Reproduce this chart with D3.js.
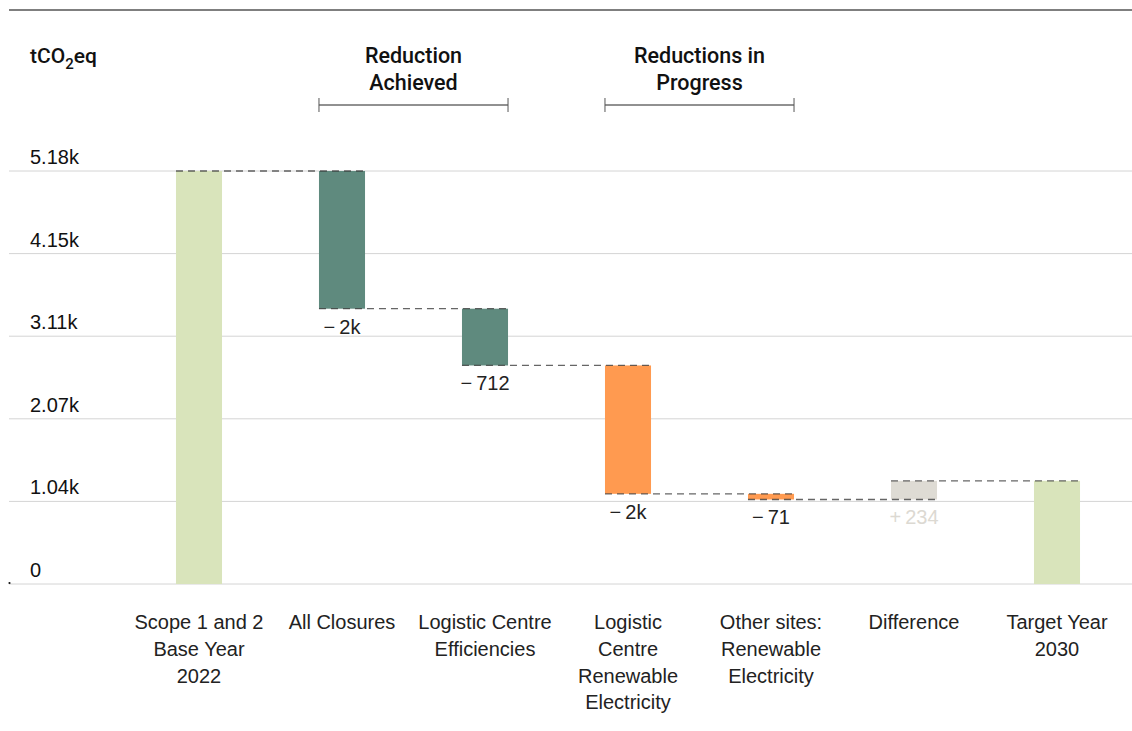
<!DOCTYPE html>
<html>
<head>
<meta charset="utf-8">
<script src="https://cdn.jsdelivr.net/npm/d3@7"></script>
<style>
  html, body { margin: 0; padding: 0; background: #fff; }
  svg { display: block; font-family: "Liberation Sans", Arial, sans-serif; }
</style>
</head>
<body>
<svg id="chart"></svg>
<script>
// categories (one array of lines per bar)
const categories = [
  ["Scope 1 and 2", "Base Year", "2022"],
  ["All Closures"],
  ["Logistic Centre", "Efficiencies"],
  ["Logistic", "Centre", "Renewable", "Electricity"],
  ["Other sites:", "Renewable", "Electricity"],
  ["Difference"],
  ["Target Year", "2030"]
];
// first is the starting total, last (null) is the closing total
const deltas = [5180, -1727, -712, -1610, -71, 234, null];
const kinds = ["total", "achieved", "achieved", "progress", "progress", "difference", "total"];

const yTicks = [0, 1036, 2072, 3108, 4144, 5180];
const yTickLabels = ["0", "1.04k", "2.07k", "3.11k", "4.15k", "5.18k"];

const groupLabels = [["Reduction", "Achieved"], ["Reductions in", "Progress"]];
const groupSpans = [[1, 2], [3, 4]];

const colors = {
  total: "#d9e4bb",
  achieved: "#5f8a7e",
  progress: "#ff9a50",
  difference: "#dedbd4"
};

const width = 1132, height = 731;
const svg = d3.select("#chart").attr("width", width).attr("height", height);

// build waterfall steps
let running = 0;
const steps = deltas.map((d, i) => {
  let start, end;
  if (kinds[i] === "total" && d !== null) { start = 0; end = d; }
  else if (d === null) { start = 0; end = running; }
  else { start = running; end = running + d; }
  running = end;
  return { i, start, end, delta: d, kind: kinds[i], lines: categories[i] };
});

// scales
const x = d3.scaleBand()
  .domain(d3.range(categories.length))
  .range([127.5, 1128.5])
  .paddingInner(0.678)
  .paddingOuter(0.339);

const y = d3.scaleLinear().domain([0, 5180]).range([584, 171]);

// top rule
svg.append("line")
  .attr("x1", 9).attr("x2", width)
  .attr("y1", 10).attr("y2", 10)
  .attr("stroke", "#555").attr("stroke-width", 1.5);

// unit title
const title = svg.append("text")
  .attr("x", 30).attr("y", 63)
  .attr("font-family", "Roboto, sans-serif")
  .attr("font-size", 21).attr("font-weight", 500).attr("fill", "#111");
title.append("tspan").text("tCO");
title.append("tspan").attr("dy", 6).attr("font-size", 15).text("2");
title.append("tspan").attr("dy", -6).text("eq");

// grid + y labels
const grid = svg.append("g");
grid.selectAll("line")
  .data(yTicks)
  .join("line")
  .attr("x1", 9).attr("x2", width)
  .attr("y1", d => y(d)).attr("y2", d => y(d))
  .attr("stroke", "#d4d4d4").attr("stroke-width", 1);

grid.selectAll("text")
  .data(yTicks)
  .join("text")
  .attr("x", 30)
  .attr("y", d => y(d) - 7)
  .attr("font-size", 20)
  .attr("fill", "#111")
  .text((d, i) => yTickLabels[i]);

svg.append("circle").attr("cx", 9.5).attr("cy", y(0) - 1).attr("r", 1.1).attr("fill", "#111");

// bars
svg.append("g")
  .selectAll("rect")
  .data(steps)
  .join("rect")
  .attr("x", d => x(d.i))
  .attr("width", x.bandwidth())
  .attr("y", d => y(Math.max(d.start, d.end)))
  .attr("height", d => Math.abs(y(d.start) - y(d.end)))
  .attr("fill", d => colors[d.kind]);

// dashed connectors
svg.append("g")
  .selectAll("line")
  .data(steps.slice(0, -1))
  .join("line")
  .attr("x1", d => x(d.i))
  .attr("x2", d => x(d.i + 1) + x.bandwidth())
  .attr("y1", d => y(d.end))
  .attr("y2", d => y(d.end))
  .attr("stroke", "#333")
  .attr("stroke-opacity", 0.75)
  .attr("stroke-width", 1.3)
  .attr("stroke-dasharray", "7,5");

// value labels for the delta bars
const fmt = v => {
  const sign = v < 0 ? "\u2212\u2009" : "+\u2009";
  const a = Math.abs(v);
  return sign + (a >= 1000 ? Math.round(a / 1000) + "k" : a);
};
svg.append("g")
  .selectAll("text")
  .data(steps.filter(d => d.kind !== "total"))
  .join("text")
  .attr("x", d => x(d.i) + x.bandwidth() / 2)
  .attr("y", d => y(Math.min(d.start, d.end)) + 25)
  .attr("text-anchor", "middle")
  .attr("font-size", 20)
  .attr("fill", d => d.kind === "difference" ? "#dcd9d2" : "#222")
  .text(d => fmt(d.delta));

// category labels
const cats = svg.append("g")
  .selectAll("text")
  .data(steps)
  .join("text")
  .attr("text-anchor", "middle")
  .attr("font-size", 20)
  .attr("fill", "#222");
cats.selectAll("tspan")
  .data(d => d.lines.map(l => ({ l, i: d.i })))
  .join("tspan")
  .attr("x", d => x(d.i) + x.bandwidth() / 2)
  .attr("y", (d, j) => 629 + j * 26.8)
  .text(d => d.l);

// group headers with brackets
groupSpans.forEach((span, g) => {
  const x0 = x(span[0]);
  const x1 = x(span[1]) + x.bandwidth();
  const cx = (x0 + x1) / 2;
  const hdr = svg.append("g");
  hdr.append("text")
    .attr("text-anchor", "middle")
    .attr("font-family", "Roboto, sans-serif")
    .attr("font-size", 21.5)
    .attr("font-weight", 500)
    .attr("fill", "#111")
    .selectAll("tspan")
    .data(groupLabels[g])
    .join("tspan")
    .attr("x", cx)
    .attr("y", (d, j) => 63 + j * 27)
    .text(d => d);
  hdr.append("line")
    .attr("x1", x0).attr("x2", x1).attr("y1", 105).attr("y2", 105)
    .attr("stroke", "#222").attr("stroke-width", 1);
  [x0, x1].forEach(xx => {
    hdr.append("line")
      .attr("x1", xx).attr("x2", xx).attr("y1", 98).attr("y2", 112)
      .attr("stroke", "#555").attr("stroke-width", 1);
  });
});
</script>
</body>
</html>
